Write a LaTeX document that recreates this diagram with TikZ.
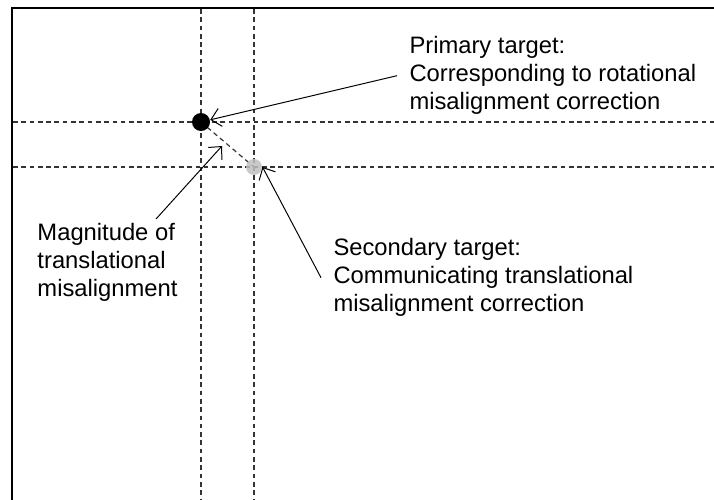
\documentclass[tikz,border=0pt]{standalone}
\usepackage{fontspec}
\setmainfont{Liberation Sans}
\usetikzlibrary{arrows.meta}

\begin{document}
\begin{tikzpicture}[
    x=0.025cm,
    y=-0.025cm,
    line width=0.7pt,
    guide line/.style={draw=black!80,line width=0.85pt,dash pattern=on 3.3pt off 2.6pt},
    primary node/.style={circle,fill=black,inner sep=0pt,minimum size=0.45cm},
    secondary node/.style={circle,fill=black!25,fill opacity=0.85,inner sep=0pt,minimum size=0.4cm},
    label node/.style={align=left,anchor=north west,inner xsep=0.3cm,inner ysep=0.1cm,
      font=\fontsize{16.9}{20}\selectfont},
    pointer/.style={-{Straight Barb[length=2.4mm,width=4.6mm]}}]

  \clip (0,0) rectangle (714,499);

  % frame, only top and left edges fall inside
  \draw[line width=2pt] (12,530) |- (740,8);

  % crosshairs through both targets
  \coordinate (p) at (201,122);
  \coordinate (s) at (254,167);
  \draw[guide line] (p |- 0,9) -- (p |- 0,499);
  \draw[guide line] (s |- 0,9) -- (s |- 0,499);
  \draw[guide line] (13,0 |- p) -- (714,0 |- p);
  \draw[guide line] (13,0 |- s) -- (714,0 |- s);
  \draw[guide line] (p) -- (s);

  % the two targets
  \node[primary node] (pdot) at (p) {};
  \node[secondary node] (sdot) at (s) {};

  \coordinate (offset) at (222,146);

  \node[label node] (plabel) at (397,32) {Primary target:\\Corresponding to rotational\\misalignment correction};
  \node[label node] (mlabel) at (25,219) {Magnitude of\\translational\\misalignment};
  \node[label node] (slabel) at (321,234) {Secondary target:\\Communicating translational\\misalignment correction};

  \path[pointer]
    (plabel.west) edge (pdot)
    (mlabel.42) edge (offset)
    (slabel.west) edge (sdot.east);
\end{tikzpicture}
\end{document}
